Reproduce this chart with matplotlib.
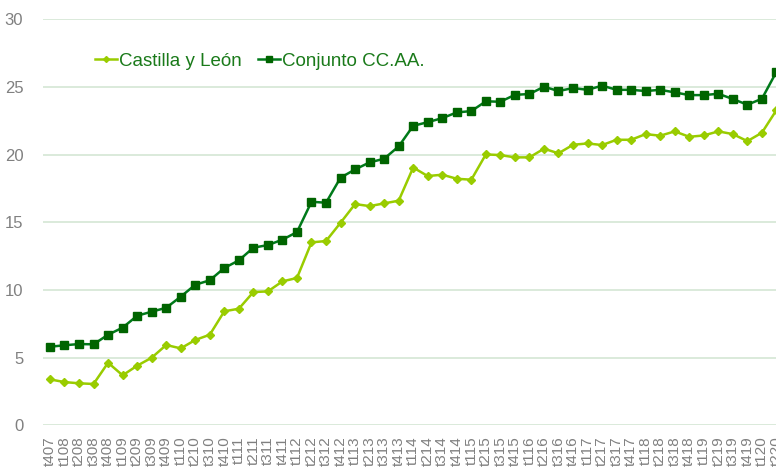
import matplotlib
matplotlib.use("Agg")
import matplotlib.pyplot as plt

plt.rcParams['font.family'] = ['Liberation Sans', 'DejaVu Sans']

# quarters t407 ... t220 (last one falls off the right edge)
years = ['07'] + [f"{y:02d}" for y in range(8, 20) for _ in range(4)] + ['20', '20']
quarters = ['4'] + [str(q) for _ in range(8, 20) for q in range(1, 5)] + ['1', '2']
labels = [f"t{q}{y}" for q, y in zip(quarters, years)]

castilla_leon = [3.40, 3.20, 3.11, 3.06, 4.63, 3.70, 4.41, 5.00, 5.94, 5.69,
                 6.31, 6.70, 8.43, 8.62, 9.85, 9.90, 10.64, 10.89, 13.52, 13.62,
                 14.97, 16.35, 16.20, 16.40, 16.60, 19.05, 18.42, 18.52, 18.22, 18.15,
                 20.02, 19.97, 19.80, 19.80, 20.44, 20.10, 20.73, 20.83, 20.71, 21.10,
                 21.10, 21.52, 21.40, 21.72, 21.32, 21.42, 21.72, 21.52, 21.00, 21.62,
                 23.29]
conjunto = [5.81, 5.92, 6.01, 5.99, 6.70, 7.22, 8.10, 8.40, 8.69, 9.51,
            10.39, 10.72, 11.63, 12.19, 13.13, 13.32, 13.72, 14.28, 16.52, 16.45,
            18.30, 18.91, 19.43, 19.70, 20.61, 22.13, 22.40, 22.70, 23.12, 23.22,
            23.94, 23.91, 24.42, 24.48, 25.02, 24.70, 24.92, 24.79, 25.10, 24.79,
            24.79, 24.70, 24.79, 24.60, 24.40, 24.40, 24.50, 24.11, 23.69, 24.13,
            26.12]

fig = plt.figure(figsize=(7.76, 4.68), dpi=100)
# axes runs past the right edge of the figure, like the cropped original
ax = fig.add_axes([42.7 / 776, 42.6 / 468, 741 / 776, 406.1 / 468])

x = range(len(labels))
ax.plot(x, castilla_leon, color='#99cc00', lw=1.8, marker='D', ms=4.3,
        mec='#99cc00', mfc='#99cc00', label='Castilla y León')
ax.plot(x, conjunto, color='#007a1a', lw=1.8, marker='s', ms=5.5,
        mec='#006400', mfc='#006400', label='Conjunto CC.AA.')

ax.set_xlim(-0.5, len(labels) - 0.5)
ax.set_ylim(0, 30)
ax.set_yticks(range(0, 31, 5))
ax.set_xticks(list(x))
ax.set_xticklabels(labels, rotation=90, fontsize=11, color='#808080')
ax.tick_params(axis='y', labelsize=12, colors='#808080', length=0, pad=14)
ax.tick_params(axis='x', length=0, pad=8)
ax.grid(axis='y', color='#d4e6d4', lw=1.2)
ax.set_axisbelow(True)
for s in ax.spines.values():
    s.set_visible(False)

leg = ax.legend(loc='upper left', bbox_to_anchor=(0.06, 0.937), borderaxespad=0,
                ncol=2, frameon=False, fontsize=13.5, handlelength=1.2,
                handletextpad=0.1, columnspacing=0.85, markerscale=0.7)
for t in leg.get_texts():
    t.set_color('#1a7a1a')

fig.savefig('out.png', dpi=100)
